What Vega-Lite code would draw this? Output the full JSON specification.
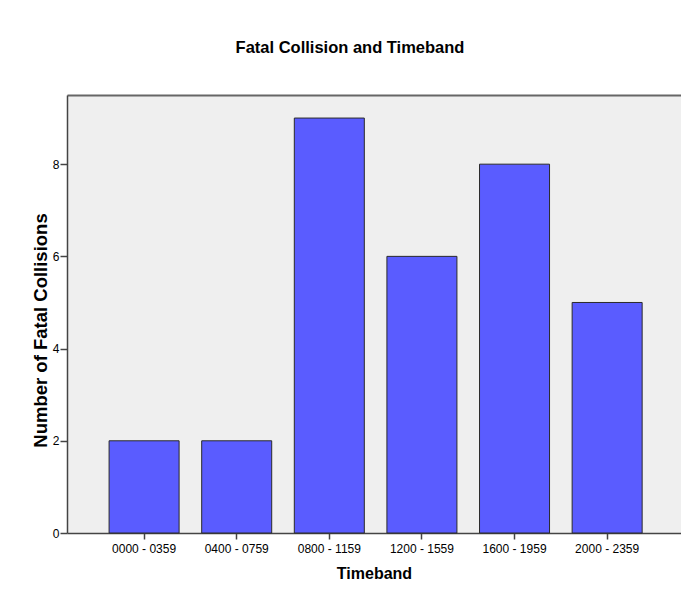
{
  "$schema": "https://vega.github.io/schema/vega-lite/v6.json",
  "width": 614,
  "height": 438,
  "autosize": {"type": "none"},
  "padding": {"left": 67, "top": 95, "right": 0, "bottom": 64},
  "background": "white",
  "title": {
    "text": "Fatal Collision and Timeband",
    "anchor": "middle",
    "dx": -24,
    "offset": 39,
    "font": "Liberation Sans",
    "fontSize": 16.5,
    "fontWeight": "bold",
    "color": "#000000"
  },
  "config": {
    "view": {"stroke": null, "fill": "#EFEFEF"},
    "axis": {"grid": false, "labelFont": "Liberation Sans", "titleFont": "Liberation Sans"}
  },
  "data": {
    "values": [
      {"Timeband": "0000 - 0359", "Count": 2},
      {"Timeband": "0400 - 0759", "Count": 2},
      {"Timeband": "0800 - 1159", "Count": 9},
      {"Timeband": "1200 - 1559", "Count": 6},
      {"Timeband": "1600 - 1959", "Count": 8},
      {"Timeband": "2000 - 2359", "Count": 5}
    ]
  },
  "layer": [
    {
      "mark": {"type": "bar", "color": "#5A5CFF", "stroke": "#2A2A2A", "strokeWidth": 1},
      "encoding": {
        "x": {
          "field": "Timeband",
          "type": "nominal",
          "sort": null,
          "scale": {"paddingInner": 0.244, "paddingOuter": 0.437, "align": 0.52},
          "axis": {
            "title": "Timeband",
            "titleFontSize": 16,
            "titleFontWeight": "bold",
            "titleColor": "#000000",
            "titlePadding": 11,
            "labelAngle": 0,
            "labelFontSize": 12,
            "labelColor": "#000000",
            "labelPadding": 4,
            "tickSize": 6,
            "tickWidth": 1.5,
            "tickColor": "#444444",
            "domainColor": "#444444",
            "domainWidth": 1.5
          }
        },
        "y": {
          "field": "Count",
          "type": "quantitative",
          "scale": {"domain": [0, 9.5], "nice": false},
          "axis": {
            "title": "Number of Fatal Collisions",
            "titleFontSize": 18.5,
            "titleFontWeight": "bold",
            "titleColor": "#000000",
            "titlePadding": 2,
            "titleY": 235,
            "values": [0, 2, 4, 6, 8],
            "labelFontSize": 12,
            "labelColor": "#000000",
            "labelPadding": 1,
            "tickSize": 7,
            "tickWidth": 1.5,
            "tickColor": "#444444",
            "domainColor": "#444444",
            "domainWidth": 1.5
          }
        }
      }
    },
    {
      "mark": {"type": "bar", "opacity": 0},
      "encoding": {
        "x": {
          "field": "Timeband",
          "type": "nominal",
          "sort": null,
          "axis": {
            "orient": "top",
            "title": null,
            "labels": false,
            "ticks": false,
            "domainColor": "#666666",
            "domainWidth": 2
          }
        },
        "y": {"field": "Count", "type": "quantitative"}
      }
    }
  ],
  "resolve": {"axis": {"x": "independent"}}
}
